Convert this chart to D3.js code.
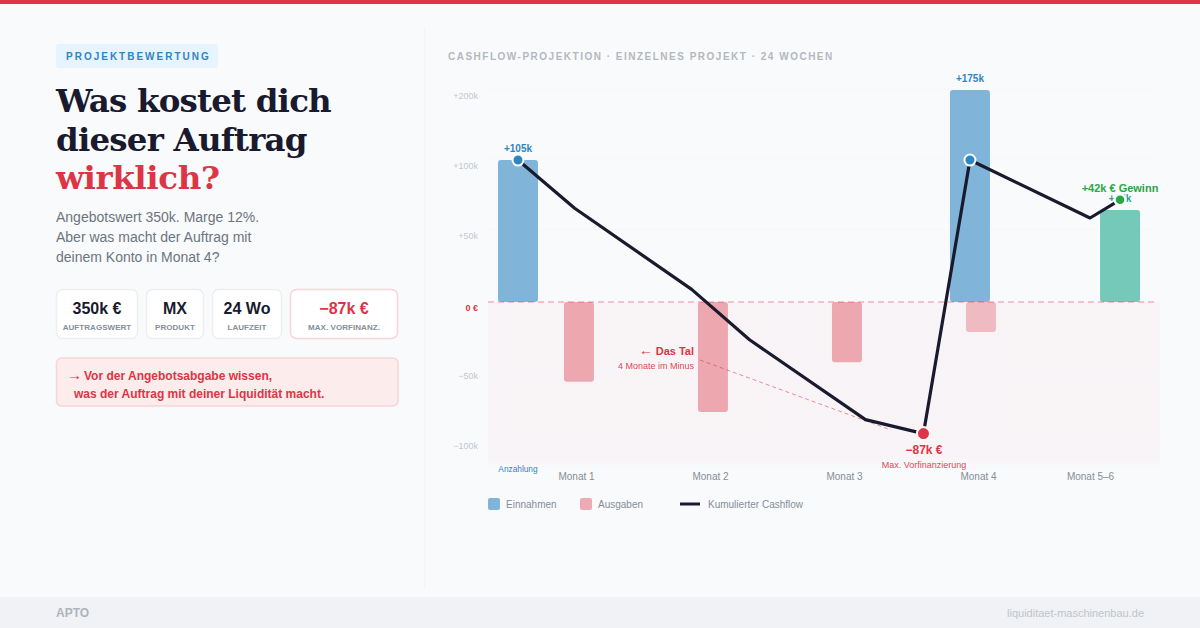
<!DOCTYPE html>
<html lang="de"><head><meta charset="utf-8">
<script src="https://d3js.org/d3.v7.min.js"></script>
<style>html,body{margin:0;padding:0;background:#f9fafc}svg{display:block}text{font-family:"Liberation Sans",Arial,sans-serif}</style>
</head><body><svg id="c" width="1200" height="628"></svg>
<script>
// Bars: x position in months, height read in axis units (50 units = one grid step)
const barMonths=[0.567,1.022,2.022,3.022,3.94,4.022,5.06];
const barValues=[101.4,-57,-78.6,-43,151.4,-21.4,65.7];
const barKinds=["in","out","out","out","in","outLight","gain"];
const barLabels=["+105k",null,null,null,"+175k",null,"+42k"];
// Cumulative line
const lineMonths=[0.567,0.99,1.863,2.295,3.16,3.593,3.94,4.836,5.06];
const lineValues=[101.4,67,9,-27,-84,-94,101.4,60,73];
// Axis
const yTicks=[150,100,50,0,-50,-100];
const yTickLabels=["+200k","+100k","+50k","0 €","−50k","−100k"];
const monthTicks=[1,2,3,4,4.836];
const monthLabels=["Monat 1","Monat 2","Monat 3","Monat 4","Monat 5–6"];
const titleLines=["Was kostet dich","dieser Auftrag","wirklich?"];
const subLines=["Angebotswert 350k. Marge 12%.","Aber was macht der Auftrag mit","deinem Konto in Monat 4?"];
const cardValues=["350k €","MX","24 Wo","−87k €"];
const cardLabels=["AUFTRAGSWERT","PRODUKT","LAUFZEIT","MAX. VORFINANZ."];

const svg=d3.select("#c");
const RED="#dc3545",BLUE="#2e86c1",INK="#1a1a2e",GREEN="#28a745",TEAL="#1aa88a";
const x=d3.scaleLinear().domain([1,4]).range([576,978]);
const y=d3.scaleLinear().domain([0,50]).range([302,232]);
function T(px,py,s,size,fill,opt={}){
  return svg.append("text").attr("x",px).attr("y",py).text(s).attr("font-size",size).attr("fill",fill)
   .attr("font-weight",opt.w||400).attr("text-anchor",opt.a||"start")
   .attr("letter-spacing",opt.ls||null).style("font-family",opt.f||null).style("white-space","pre");
}
// frame
svg.append("rect").attr("width",1200).attr("height",628).attr("fill","#f9fafc");
svg.append("rect").attr("width",1200).attr("height",4).attr("fill",RED);
svg.append("rect").attr("y",597).attr("width",1200).attr("height",31).attr("fill","#f1f2f5");
svg.append("rect").attr("x",424).attr("y",28).attr("width",1.5).attr("height",560).attr("fill","#f3f4f6");
T(56,617,"APTO",12,"#adb5bd",{w:700});
T(1144,617,"liquiditaet-maschinenbau.de",11,"#c0c5ca",{a:"end"});
// left panel
svg.append("rect").attr("x",56).attr("y",44).attr("width",162).attr("height",24).attr("rx",3).attr("fill","#e8f4fd");
T(66,60,"PROJEKTBEWERTUNG",10,BLUE,{w:700,ls:"2px"});
const tf='"DejaVu Serif",Georgia,serif';
[[titleLines[0],112,INK,"-0.83px"],[titleLines[1],151,INK,"-0.8px"],[titleLines[2],189,RED,"-0.4px"]]
  .forEach(d=>T(56,d[1],d[0],32.5,d[2],{w:700,f:tf,ls:d[3]}));
subLines.forEach((s,i)=>T(56,222+i*20,s,14,"#6c757d"));
const cardX=[56,146,212,290],cardW=[82,58,70,108];
cardValues.forEach((v,i)=>{
  const alert=i===3;
  svg.append("rect").attr("x",cardX[i]+.5).attr("y",289.5).attr("width",cardW[i]-1).attr("height",49).attr("rx",6)
    .attr("fill","#fff").attr("stroke",alert?"#f7d5d8":"#eceef0").attr("stroke-width",1.5);
  const c=cardX[i]+cardW[i]/2;
  T(c,314,v,16,alert?RED:INK,{w:700,a:"middle"});
  T(c,330,cardLabels[i],8,"#868e96",{w:700,a:"middle",ls:"0.05px"});
});
svg.append("rect").attr("x",56.5).attr("y",358).attr("width",341.5).attr("height",48).attr("rx",5)
  .attr("fill","#fdecec").attr("stroke","#f8d4d7").attr("stroke-width",1.5);
T(67,380,"→",15,RED);
T(84,380,"Vor der Angebotsabgabe wissen,",12,RED,{w:700});
T(74,398,"was der Auftrag mit deiner Liquidität macht.",12,RED,{w:700});
// chart
T(448,60,"CASHFLOW-PROJEKTION · EINZELNES PROJEKT · 24 WOCHEN",10,"#b4b8bd",{w:700,ls:"1.5px"});
const grad=svg.append("defs").append("linearGradient").attr("id","valley").attr("x1",0).attr("x2",0).attr("y1",0).attr("y2",1);
[[0,.03],[.94,.03],[1,.005]].forEach(s=>grad.append("stop").attr("offset",s[0]).attr("stop-color",RED).attr("stop-opacity",s[1]));
svg.append("rect").attr("x",488).attr("y",y(0)).attr("width",672).attr("height",y(-118)-y(0)).attr("fill","url(#valley)");
// grid
svg.append("g").selectAll("line").data(yTicks.filter(t=>t!==0)).join("line")
  .attr("x1",488).attr("x2",1156).attr("y1",d=>y(d)-2).attr("y2",d=>y(d)-2).attr("stroke","#f6f7f9").attr("stroke-width",1);
// axes
const yAxis=svg.append("g").attr("transform","translate(478,0)")
  .call(d3.axisLeft(y).tickValues(yTicks).tickSize(0).tickPadding(0).tickFormat((d,i)=>yTickLabels[i]));
yAxis.select(".domain").remove();
yAxis.selectAll("text").attr("font-size",9).attr("dy",null).attr("y",d=>d===0?8:6).attr("fill",d=>d===0?RED:"#c4c8cc")
  .attr("font-weight",d=>d===0?700:400).style("font-family",'"Liberation Sans",Arial,sans-serif');
const xAxis=svg.append("g").attr("transform","translate(0,480)")
  .call(d3.axisBottom(x).tickValues(monthTicks).tickSize(0).tickPadding(0).tickFormat((d,i)=>monthLabels[i]));
xAxis.select(".domain").remove();
xAxis.selectAll("text").attr("font-size",10).attr("y",0).attr("dy",0).attr("fill","#868e96").style("font-family",'"Liberation Sans",Arial,sans-serif');
// zero line
svg.append("line").attr("x1",488).attr("x2",1156).attr("y1",y(0)).attr("y2",y(0)).attr("stroke",RED).attr("stroke-opacity",.35).attr("stroke-width",1.5).attr("stroke-dasharray","6 4");
// bars
const kinds={in:[BLUE,.6,40],out:[RED,.4,30],outLight:[RED,.3,30],gain:[TEAL,.6,40]};
svg.append("g").selectAll("rect").data(barValues).join("rect")
  .attr("x",(d,i)=>x(barMonths[i])-kinds[barKinds[i]][2]/2)
  .attr("width",(d,i)=>kinds[barKinds[i]][2])
  .attr("y",d=>Math.min(y(d),y(0))).attr("height",d=>Math.abs(y(d)-y(0))).attr("rx",3)
  .attr("fill",(d,i)=>kinds[barKinds[i]][0]).attr("opacity",(d,i)=>kinds[barKinds[i]][1]);
// bar labels
T(x(barMonths[0]),152,barLabels[0],10,BLUE,{w:700,a:"middle"});
T(x(barMonths[4]),82,barLabels[4],10,BLUE,{w:700,a:"middle"});
T(x(barMonths[6]),202,barLabels[6],10,TEAL,{w:700,a:"middle"});
T(x(barMonths[0]),472,"Anzahlung",8.3,BLUE,{a:"middle"});
// annotation
svg.append("line").attr("x1",x(2)-10).attr("y1",360).attr("x2",x(3.35)).attr("y2",430).attr("stroke",RED).attr("stroke-opacity",.55).attr("stroke-width",1).attr("stroke-dasharray","4 3");
T(653,355,"←",14,RED,{a:"end"});
T(694,355,"Das Tal",11,RED,{w:700,a:"end"});
T(694,369,"4 Monate im Minus",9,RED,{a:"end"}).attr("opacity",.9);
// line
const ln=d3.line().x(d=>x(d[0])).y(d=>y(d[1]));
svg.append("path").datum(lineMonths.map((m,i)=>[m,lineValues[i]])).attr("d",ln).attr("fill","none").attr("stroke",INK).attr("stroke-width",3.2).attr("stroke-linejoin","round");
// dots
[[0,BLUE,5.5,2,"#fff"],[6,BLUE,5.5,2,"#fff"],[5,RED,6.5,2,"#fcf6f7"],[8,GREEN,5.5,2.5,"#f9fafc"]].forEach(d=>{
  svg.append("circle").attr("cx",x(lineMonths[d[0]])).attr("cy",y(lineValues[d[0]])).attr("r",d[2]).attr("fill",d[1]).attr("stroke",d[4]).attr("stroke-width",d[3]);
});
T(924,454,"−87k €",12,RED,{w:700,a:"middle"});
T(924,468,"Max. Vorfinanzierung",9,RED,{a:"middle"}).attr("opacity",.9);
T(1120,192,"+42k € Gewinn",11,GREEN,{w:700,a:"middle"});
// legend
svg.append("rect").attr("x",488).attr("y",498).attr("width",12).attr("height",12).attr("rx",2).attr("fill",BLUE).attr("opacity",.6);
T(506,508,"Einnahmen",10,"#868e96");
svg.append("rect").attr("x",580).attr("y",498).attr("width",12).attr("height",12).attr("rx",2).attr("fill",RED).attr("opacity",.4);
T(598,508,"Ausgaben",10,"#868e96");
svg.append("line").attr("x1",680).attr("x2",700).attr("y1",504).attr("y2",504).attr("stroke",INK).attr("stroke-width",3);
T(708,508,"Kumulierter Cashflow",10,"#868e96");
</script></body></html>
